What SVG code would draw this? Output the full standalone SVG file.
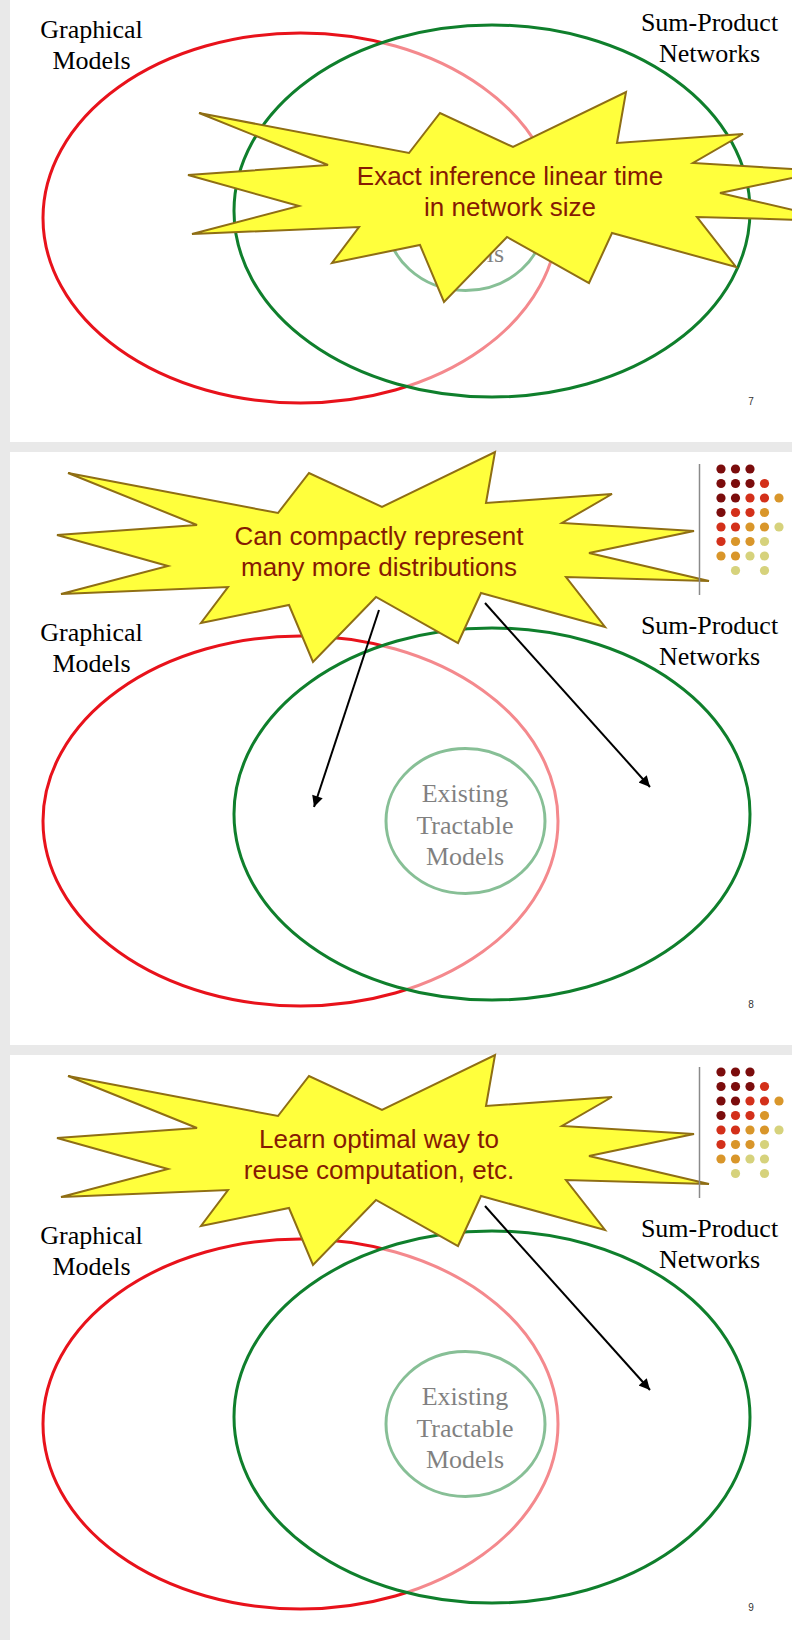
<svg xmlns="http://www.w3.org/2000/svg" xmlns:xlink="http://www.w3.org/1999/xlink" width="792" height="1640" viewBox="0 0 792 1640">
<defs>
<style>
.bg{fill:#e9e9e9}
.slide{fill:#ffffff}
.red{fill:none;stroke:#e8121b;stroke-width:3}
.grn{fill:#ffffff;fill-opacity:0.5;stroke:#0f7f2c;stroke-width:3}
.trc{fill:none;stroke:#0f7f2c;stroke-width:3}
.lbl{font-family:"Liberation Serif","Times New Roman",serif;font-size:26px;text-anchor:middle;fill:#000}
.star{fill:#ffff3c;stroke:#8f6e14;stroke-width:2;stroke-linejoin:miter}
.st{font-family:"Liberation Sans",Arial,sans-serif;font-size:26px;text-anchor:middle;fill:#861a02}
.pg{font-family:"Liberation Sans",Arial,sans-serif;font-size:10px;text-anchor:middle;fill:#333}
.arr{stroke:#000;stroke-width:2;fill:none;marker-end:url(#ah)}
.vline{stroke:#8a8a8a;stroke-width:1.5}
.m{fill:#7b0c0c}.r{fill:#d3301a}.g{fill:#d9962a}.p{fill:#d6d27c}
</style>
<marker id="ah" viewBox="0 0 10 10" refX="10" refY="5" markerWidth="14" markerHeight="11" markerUnits="userSpaceOnUse" orient="auto"><path d="M0,0 L10,5 L0,10 z" fill="#000"/></marker>
<polygon id="starShape" class="star" points="68,21 278,61 309,21 382,55 495,0 486,51 612,42 562,71 694,79 589,101 709,129 566,125 605,175 481,141 458,191 376,145 313,210 289,153 201,171 228,135 61,142 168,114 57,83 197,73"/>
<g id="logoShape">
<line class="vline" x1="699.5" y1="12" x2="699.5" y2="143"/>
<circle class="m" cx="721" cy="17" r="4.6"/><circle class="m" cx="735.5" cy="17" r="4.6"/><circle class="m" cx="750" cy="17" r="4.6"/>
<circle class="m" cx="721" cy="31.5" r="4.6"/><circle class="m" cx="735.5" cy="31.5" r="4.6"/><circle class="m" cx="750" cy="31.5" r="4.6"/><circle class="r" cx="764.5" cy="31.5" r="4.6"/>
<circle class="m" cx="721" cy="46" r="4.6"/><circle class="m" cx="735.5" cy="46" r="4.6"/><circle class="r" cx="750" cy="46" r="4.6"/><circle class="r" cx="764.5" cy="46" r="4.6"/><circle class="g" cx="779" cy="46" r="4.6"/>
<circle class="m" cx="721" cy="60.5" r="4.6"/><circle class="r" cx="735.5" cy="60.5" r="4.6"/><circle class="r" cx="750" cy="60.5" r="4.6"/><circle class="g" cx="764.5" cy="60.5" r="4.6"/>
<circle class="r" cx="721" cy="75" r="4.6"/><circle class="r" cx="735.5" cy="75" r="4.6"/><circle class="g" cx="750" cy="75" r="4.6"/><circle class="g" cx="764.5" cy="75" r="4.6"/><circle class="p" cx="779" cy="75" r="4.6"/>
<circle class="r" cx="721" cy="89.5" r="4.6"/><circle class="g" cx="735.5" cy="89.5" r="4.6"/><circle class="g" cx="750" cy="89.5" r="4.6"/><circle class="p" cx="764.5" cy="89.5" r="4.6"/>
<circle class="g" cx="721" cy="104" r="4.6"/><circle class="g" cx="735.5" cy="104" r="4.6"/><circle class="p" cx="750" cy="104" r="4.6"/><circle class="p" cx="764.5" cy="104" r="4.6"/>
<circle class="p" cx="735.5" cy="118.5" r="4.6"/><circle class="p" cx="764.5" cy="118.5" r="4.6"/>
</g>
</defs>

<rect class="bg" x="0" y="0" width="792" height="1640"/>

<!-- Slide 7 -->
<g id="slide7" transform="translate(0,-151)">
  <rect class="slide" x="10" y="0" width="782" height="593"/>
  <g id="s7-graphical"><ellipse class="red" cx="300.5" cy="369" rx="257.5" ry="185"/></g>
  <g id="s7-tractable"><ellipse class="trc" cx="465.5" cy="369" rx="79.5" ry="72.5"/>
    <text class="lbl" x="465" y="350">Existing</text><text class="lbl" x="465" y="382">Tractable</text><text class="lbl" x="465" y="413">Models</text></g>
  <g id="s7-spn"><ellipse class="grn" cx="492" cy="362" rx="258" ry="186"/></g>
  <g id="s7-labels"><text class="lbl" x="91.5" y="189">Graphical</text><text class="lbl" x="91.5" y="220">Models</text>
    <text class="lbl" x="709.5" y="182">Sum-Product</text><text class="lbl" x="709.5" y="213">Networks</text></g>
  <g id="s7-callout" transform="translate(131,243)"><use xlink:href="#starShape"/>
    <text class="st" x="379" y="93">Exact inference linear time</text><text class="st" x="379" y="124">in network size</text></g>
  <text class="pg" x="751" y="556">7</text>
</g>

<!-- Slide 8 -->
<g id="slide8" transform="translate(0,452)">
  <rect class="slide" x="10" y="0" width="782" height="593"/>
  <g id="s8-graphical"><ellipse class="red" cx="300.5" cy="369" rx="257.5" ry="185"/></g>
  <g id="s8-tractable"><ellipse class="trc" cx="465.5" cy="369" rx="79.5" ry="72.5"/>
    <text class="lbl" x="465" y="350">Existing</text><text class="lbl" x="465" y="382">Tractable</text><text class="lbl" x="465" y="413">Models</text></g>
  <g id="s8-spn"><ellipse class="grn" cx="492" cy="362" rx="258" ry="186"/></g>
  <g id="s8-labels"><text class="lbl" x="91.5" y="189">Graphical</text><text class="lbl" x="91.5" y="220">Models</text>
    <text class="lbl" x="709.5" y="182">Sum-Product</text><text class="lbl" x="709.5" y="213">Networks</text></g>
  <g id="s8-callout"><use xlink:href="#starShape"/>
    <text class="st" x="379" y="93">Can compactly represent</text><text class="st" x="379" y="124">many more distributions</text></g>
  <g id="s8-connectors">
    <line class="arr" x1="379" y1="158" x2="314" y2="355"/>
    <line class="arr" x1="485" y1="151" x2="650" y2="335"/>
  </g>
  <use id="s8-logo" xlink:href="#logoShape"/>
  <text class="pg" x="751" y="556">8</text>
</g>

<!-- Slide 9 -->
<g id="slide9" transform="translate(0,1055)">
  <rect class="slide" x="10" y="0" width="782" height="593"/>
  <g id="s9-graphical"><ellipse class="red" cx="300.5" cy="369" rx="257.5" ry="185"/></g>
  <g id="s9-tractable"><ellipse class="trc" cx="465.5" cy="369" rx="79.5" ry="72.5"/>
    <text class="lbl" x="465" y="350">Existing</text><text class="lbl" x="465" y="382">Tractable</text><text class="lbl" x="465" y="413">Models</text></g>
  <g id="s9-spn"><ellipse class="grn" cx="492" cy="362" rx="258" ry="186"/></g>
  <g id="s9-labels"><text class="lbl" x="91.5" y="189">Graphical</text><text class="lbl" x="91.5" y="220">Models</text>
    <text class="lbl" x="709.5" y="182">Sum-Product</text><text class="lbl" x="709.5" y="213">Networks</text></g>
  <g id="s9-callout"><use xlink:href="#starShape"/>
    <text class="st" x="379" y="93">Learn optimal way to</text><text class="st" x="379" y="124">reuse computation, etc.</text></g>
  <g id="s9-connectors">
    <line class="arr" x1="485" y1="151" x2="650" y2="335"/>
  </g>
  <use id="s9-logo" xlink:href="#logoShape"/>
  <text class="pg" x="751" y="556">9</text>
</g>
</svg>
